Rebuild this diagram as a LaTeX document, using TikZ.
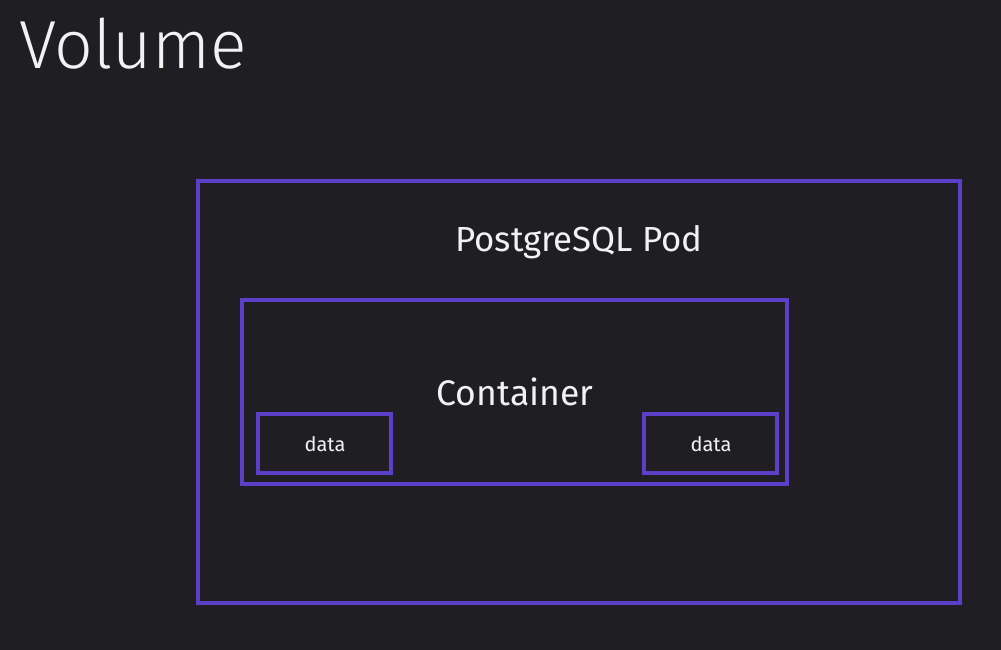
\documentclass[tikz,border=0pt]{standalone}
\usepackage{fontspec}
\setmainfont{Fira Sans}[UprightFont=* Light]
\newfontfamily\regfont{Fira Sans}
\definecolor{bg}{HTML}{1F1E23}
\definecolor{purp}{HTML}{5B3FC6}
\definecolor{txt}{HTML}{F2F2F2}
\begin{document}
\begin{tikzpicture}[x=1pt,y=-1pt,
  box/.style={draw=purp,line width=3.8pt},
  lbl/.style={text=txt,inner sep=0pt,anchor=base}]
\fill[bg] (0,0) rectangle (1001,650);
\useasboundingbox (0,0) rectangle (1001,650);
\node[lbl,anchor=base west,font=\fontsize{68}{68}\selectfont] (title) at (19,69) {Volume};
\draw[box] (198,181) rectangle (960,603);
\node[lbl,font=\regfont\fontsize{34.8}{34.8}\selectfont] (pod) at (579,251) {PostgreSQL Pod};
\draw[box] (242,300) rectangle (787,484);
\node[lbl,font=\regfont\fontsize{35.5}{35.5}\selectfont] (cont) at (515,405) {Container};
\draw[box] (258,414) rectangle (391,473);
\node[lbl,font=\regfont\fontsize{20}{20}\selectfont] (d1) at (325,451) {data};
\draw[box] (644,414) rectangle (777,473);
\node[lbl,font=\regfont\fontsize{20}{20}\selectfont] (d2) at (711,451) {data};
\end{tikzpicture}
\end{document}
